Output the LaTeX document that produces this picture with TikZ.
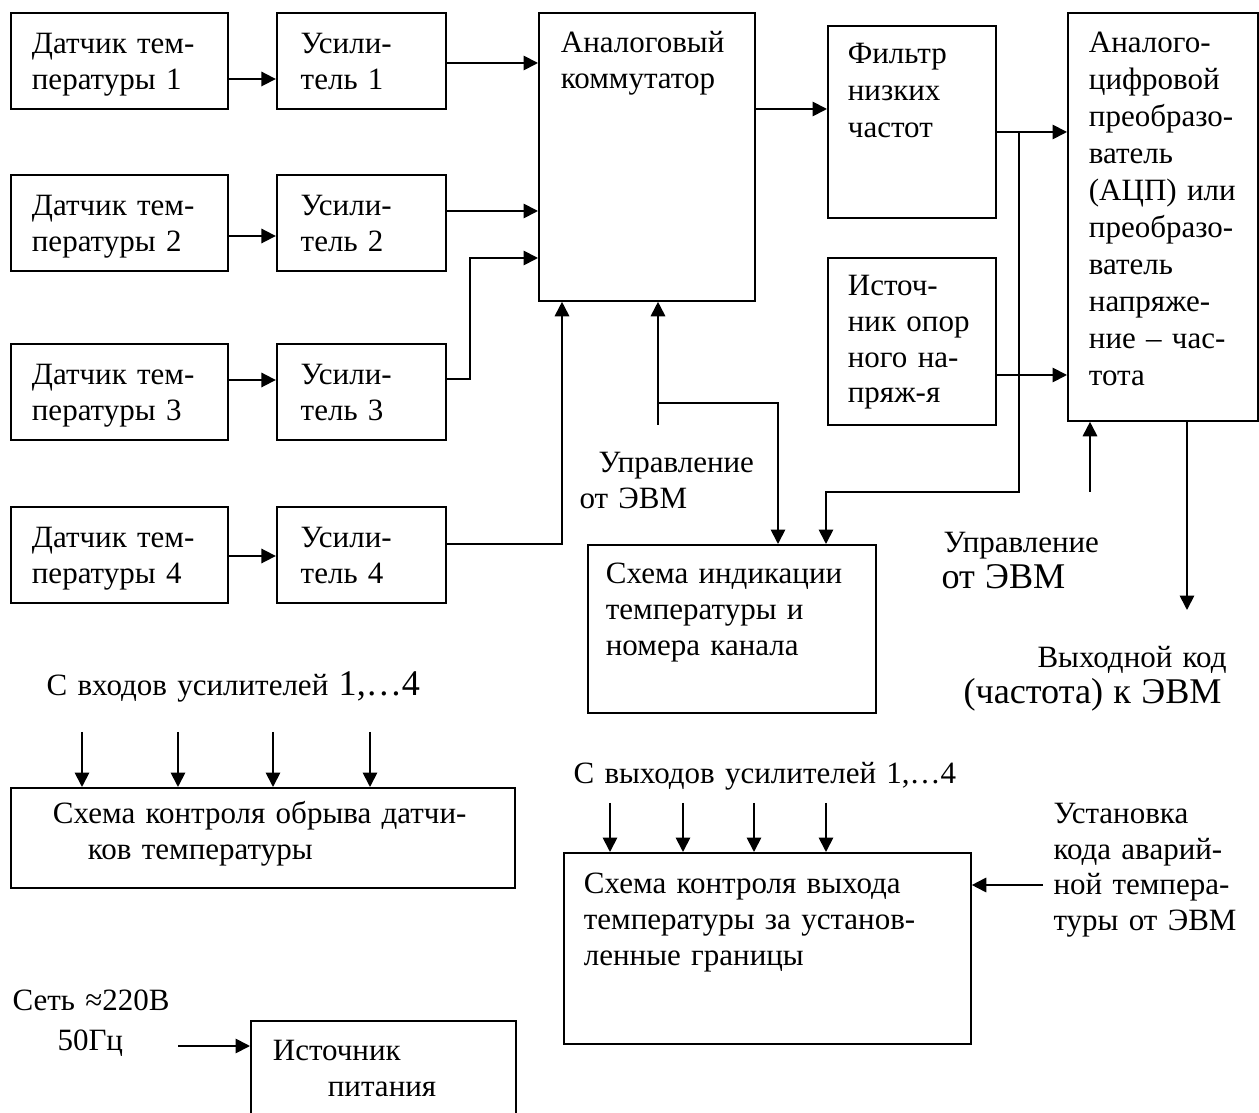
\documentclass[tikz,border=0pt]{standalone}
\usepackage{fontspec}
\setmainfont{Liberation Serif}
\usetikzlibrary{arrows.meta, positioning}
\newdimen\pu \pu=0.3871pt

\tikzset{
  box/.style n args={4}{draw, line width=0.7pt, anchor=north west, align=left,
    inner ysep=0pt, inner xsep=#1\pu, text width=#2\pu, text height=#3\pu, text depth=#4\pu},
  lbl/.style={anchor=north west, align=left, inner sep=0pt, text width=#1\pu, text height=0pt},
  arr/.style={line width=0.7pt, -{Triangle[length=5.6pt, width=5.6pt]}},
  wire/.style={line width=0.7pt},
}

\begin{document}
\begin{tikzpicture}[x=0.3871pt, y=-0.3871pt, font=\fontsize{12}{13.8}\selectfont]
        \clip (0,0) rectangle (1259,1113);

        % Sensors and amplifiers
        \foreach \i/\yy in {1/12, 2/174, 3/343, 4/506} {
          \node[box={21}{175}{41}{55}] (s\i) at (10,\yy) {Датчик~тем-\\пературы~\i};
          \node[box={24}{121}{41}{55}, right=18.2pt of s\i.north east, anchor=north west] (a\i) {Усили-\\тель~\i};
        }

        % Main chain
        \node[box={22}{172}{40}{248}] (mux) at (538,12) {Аналоговый\\коммутатор};
        \node[box={20}{128}{38}{154}, font=\fontsize{12}{14.3}\selectfont] (lpf) at (827,25) {Фильтр\\низких\\частот};
        \node[box={20}{128}{38}{129}] (ref) at (827,257) {Источ-\\ник~опор\\ного~на-\\пряж-я};
        \node[box={21}{148}{40}{368}, font=\fontsize{12}{14.3}\selectfont] (adc) at (1067,12)
          {Аналого-\\цифровой\\преобразо-\\ватель\\(АЦП)~или\\преобразо-\\ватель\\напряже-\\ние~–~час-\\тота};
        \node[box={18}{252}{39}{129}] (ind) at (587,544) {Схема~индикации\\температуры~и\\номера~канала};

        % Lower blocks
        \node[box={42}{420}{36}{64}] (brk) at (10,787) {Схема~контроля~обрыва~датчи-\\\hspace*{35\pu}ков~температуры};
        \node[box={20}{367}{41}{150}] (lim) at (563,852) {Схема~контроля~выхода\\температуры~за~установ-\\ленные~границы};
        \node[box={22}{221}{40}{90}] (psu) at (250,1020) {Источник\\\hspace*{55\pu}питания};

        % Free labels
        \node[lbl=200] (ctl1) at (579,472) {\hspace*{19\pu}Управление\\от~ЭВМ};
        \node[lbl=200] (ctl2) at (941,552) {\hspace*{2\pu}Управление\\\fontsize{14}{12.8}\selectfont от~ЭВМ};
        \node[lbl=290] (outl) at (963,667) {\hspace*{74\pu}Выходной~код\\\fontsize{14}{13.5}\selectfont(частота)~к~ЭВМ};
        \node[lbl=420] (inA) at (46,695) {С~входов~усилителей~{\fontsize{14}{14}\selectfont 1,…4}};
        \node[lbl=420] (inB) at (573,783) {С~выходов~усилителей~1,…4};
        \node[lbl=200] (setl) at (1053,823) {Установка\\кода~аварий-\\ной~темпера-\\туры~от~ЭВМ};
        \node[lbl=200] (mains) at (12,1010) {Сеть~≈220В\\[1.7pt]\hspace*{45\pu}50Гц};

        % Sensors to amplifiers
        \foreach \i/\yy in {1/79, 2/236, 3/380, 4/556}
          \draw[arr] (s\i.east |- 0,\yy) -- (a\i.west |- 0,\yy);

        % Amplifiers to multiplexer
        \draw[arr] (a1.east |- 0,63) -- (mux.west |- 0,63);
        \draw[arr] (a2.east |- 0,211) -- (mux.west |- 0,211);
        \draw[arr] (a3.east |- 0,379) -- ++(23,0) |- (mux.west |- 0,258);
        \draw[arr] (a4.east |- 0,544) -| (mux.south -| 562,0);

        % Control from computer
        \coordinate (c1) at (658,425);
        \draw[arr] (c1) -- (mux.south -| c1);
        \draw[arr] (c1 |- 0,403) -| (ind.north -| 778,0);

        % Signal path
        \draw[arr] (mux.east |- 0,109) -- (lpf.west |- 0,109);
        \draw[arr] (lpf.east |- 0,132) -- (adc.west |- 0,132);
        \draw[arr] (ref.east |- 0,375) -- (adc.west |- 0,375);
        \coordinate (tap) at (1019,132);
        \draw[arr] (tap) -- (tap |- 0,492) -| (ind.north -| 826,0);

        % ADC control and output
        \coordinate (c2) at (1090,492);
        \draw[arr] (c2) -- (adc.south -| c2);
        \coordinate (outp) at (1187,610);
        \draw[arr] (adc.south -| outp) -- (outp);

        % Inputs of the lower blocks
        \foreach \xx in {82, 178, 273, 370} {
          \coordinate (i\xx) at (\xx,732);
          \draw[arr] (i\xx) -- (brk.north -| i\xx);
        }
        \foreach \xx in {610, 683, 754, 826} {
          \coordinate (o\xx) at (\xx,803);
          \draw[arr] (o\xx) -- (lim.north -| o\xx);
        }
        \coordinate (c3) at (1043,885);
        \draw[arr] (c3) -- (lim.east |- c3);
        \coordinate (c4) at (178,1046);
        \draw[arr] (c4) -- (psu.west |- c4);
    \end{tikzpicture}
\end{document}
